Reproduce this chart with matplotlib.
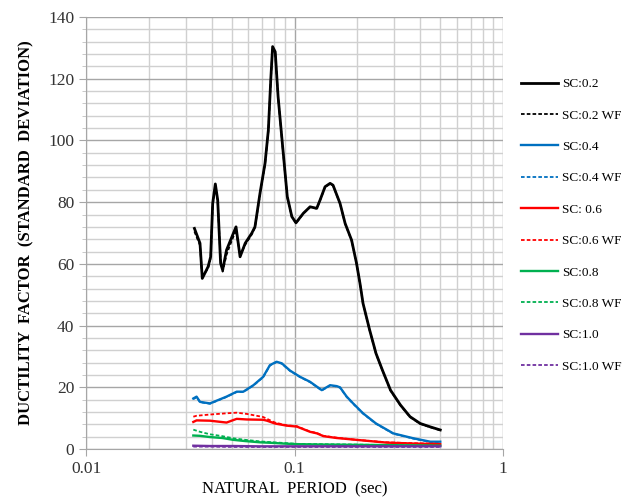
import matplotlib
matplotlib.use("Agg")
import matplotlib.pyplot as plt
from matplotlib.ticker import FixedLocator, NullFormatter, LogLocator

plt.rcParams['font.family'] = ['Liberation Serif', 'DejaVu Serif']

# Natural period (sec) and ductility factor values
sc02_x = [0.0331, 0.0352, 0.0361, 0.0385, 0.0396, 0.0405, 0.0417, 0.0428, 0.0442,
          0.0452, 0.0472, 0.0490, 0.0524, 0.0548, 0.0580, 0.0623, 0.0646, 0.0683,
          0.0722, 0.0749, 0.0769, 0.0785, 0.0808, 0.0834, 0.0877, 0.0923, 0.0971,
          0.1016, 0.1102, 0.1187, 0.1278, 0.1326, 0.1401, 0.1481, 0.1530, 0.1653,
          0.1749, 0.1878, 0.1983, 0.2060, 0.2131, 0.2292, 0.2459, 0.2639, 0.2886,
          0.3220, 0.3581, 0.4006, 0.4478, 0.5]
sc02_y = [71.5, 66.7, 55.3, 59.1, 62.3, 79.6, 85.9, 80.7, 60.2,
          58.0, 64.5, 67.2, 72.0, 62.3, 66.7, 69.9, 72.0, 82.9,
          92.6, 103.4, 119.6, 130.4, 128.7, 114.2, 98.0, 81.8, 75.3,
          73.3, 76.4, 78.5, 78.0, 80.7, 85.0, 86.1, 85.5, 79.6,
          73.1, 67.7, 60.2, 53.7, 47.2, 38.6, 31.0, 25.6, 19.1,
          14.3, 10.5, 8.3, 7.2, 6.2]
sc02wf_y = [70.5, 66.0, 55.8, 58.6, 62.0, 79.0, 85.3, 80.2, 61.5,
            57.5, 63.0, 66.0, 71.0, 62.8, 66.2, 69.5, 71.8, 82.5,
            92.3, 103.0, 119.2, 130.0, 128.4, 114.0, 97.8, 81.6, 75.2,
            73.2, 76.3, 78.4, 77.9, 80.6, 84.9, 86.0, 85.4, 79.5,
            73.0, 67.6, 60.1, 53.6, 47.1, 38.5, 30.9, 25.5, 19.0,
            14.2, 10.4, 8.2, 7.1, 6.1]

sc04_x = [0.0327, 0.0339, 0.0352, 0.0393, 0.0472, 0.0528, 0.0568, 0.0635, 0.0707,
          0.0762, 0.0820, 0.0868, 0.0953, 0.1064, 0.1187, 0.1351, 0.1481, 0.1594,
          0.1653, 0.1779, 0.1910, 0.2131, 0.2459, 0.2974, 0.3716, 0.4478, 0.5]
sc04_y = [16.4, 17.0, 15.3, 14.8, 17.0, 18.6, 18.6, 20.7, 23.4,
          27.2, 28.3, 27.8, 25.4, 23.4, 21.8, 19.1, 20.7, 20.4,
          20.0, 17.0, 14.8, 11.6, 8.3, 5.1, 3.5, 2.4, 2.4]
sc04wf_y = [16.2, 16.8, 15.2, 14.7, 16.9, 18.5, 18.5, 20.6, 23.3,
            27.1, 28.2, 27.7, 25.3, 23.3, 21.7, 19.0, 20.6, 20.3,
            19.9, 16.9, 14.7, 11.5, 8.2, 5.0, 3.4, 2.3, 2.3]

sc06_x = [0.0327, 0.0339, 0.0393, 0.0472, 0.0528, 0.0590, 0.0707, 0.0738, 0.0805,
          0.0917, 0.1025, 0.1187, 0.128, 0.1375, 0.159, 0.198, 0.2764, 0.3716, 0.5]
sc06_y = [8.8, 9.3, 9.2, 8.6, 9.8, 9.6, 9.5, 9.2, 8.3,
          7.6, 7.3, 5.6, 5.1, 4.2, 3.6, 3.0, 2.1, 1.8, 1.6]
sc06wf_y = [10.5, 10.8, 11.2, 11.6, 11.8, 11.4, 10.4, 9.8, 8.6,
            7.7, 7.4, 5.7, 5.2, 4.3, 3.7, 3.0, 2.2, 1.9, 1.7]

sc08_x = [0.0327, 0.0352, 0.0393, 0.0450, 0.0508, 0.0580, 0.0683, 0.0790, 0.0883,
          0.1025, 0.1280, 0.1840, 0.2764, 0.3716, 0.5]
sc08_y = [4.4, 4.3, 3.9, 3.6, 3.0, 2.6, 2.2, 2.0, 1.8,
          1.6, 1.5, 1.4, 1.3, 1.2, 1.1]
sc08wf_y = [6.3, 5.6, 4.8, 4.2, 3.5, 3.0, 2.5, 2.2, 2.0,
            1.7, 1.6, 1.5, 1.3, 1.2, 1.1]

sc10_x = [0.0327, 0.0393, 0.0508, 0.0683, 0.0883, 0.1280, 0.1840, 0.2764, 0.5]
sc10_y = [1.1, 1.0, 1.0, 0.9, 0.9, 0.9, 0.9, 0.9, 0.9]
sc10wf_y = [0.8, 0.8, 0.7, 0.7, 0.7, 0.7, 0.7, 0.7, 0.7]

labels = ['SC:0.2', 'SC:0.2 WF', 'SC:0.4', 'SC:0.4 WF', 'SC: 0.6',
          'SC:0.6 WF', 'SC:0.8', 'SC:0.8 WF', 'SC:1.0', 'SC:1.0 WF']

BLACK = '#000000'
BLUE = '#0070C0'
RED = '#FF0000'
GREEN = '#00B050'
PURPLE = '#7030A0'

fig = plt.figure(figsize=(6.28, 4.99), dpi=100)
ax = fig.add_axes([0.137, 0.100, 0.664, 0.866])

series = [
    (sc02_x, sc02_y, BLACK, '-', 2.0),
    (sc02_x, sc02wf_y, BLACK, (0, (2, 1.2)), 1.3),
    (sc04_x, sc04_y, BLUE, '-', 1.7),
    (sc04_x, sc04wf_y, BLUE, (0, (2, 1.2)), 1.3),
    (sc06_x, sc06_y, RED, '-', 1.7),
    (sc06_x, sc06wf_y, RED, (0, (2, 1.2)), 1.3),
    (sc08_x, sc08_y, GREEN, '-', 1.7),
    (sc08_x, sc08wf_y, GREEN, (0, (2, 1.2)), 1.3),
    (sc10_x, sc10_y, PURPLE, '-', 1.7),
    (sc10_x, sc10wf_y, PURPLE, (0, (2, 1.2)), 1.3),
]
for (x, y, c, ls, lw), lab in zip(series, labels):
    ax.plot(x, y, color=c, linestyle=ls, linewidth=lw, label=lab)

ax.set_xscale('log')
ax.set_xlim(0.01, 1)
ax.set_ylim(0, 140)

ax.set_yticks(range(0, 141, 20))
ax.yaxis.set_minor_locator(FixedLocator(range(0, 141, 4)))
ax.xaxis.set_major_locator(FixedLocator([0.01, 0.1, 1]))
ax.set_xticklabels(['0.01', '0.1', '1'])
ax.xaxis.set_minor_locator(LogLocator(base=10, subs=range(2, 10)))
ax.xaxis.set_minor_formatter(NullFormatter())

ax.grid(True, which='major', color='#a6a6a6', linewidth=1.0)
ax.grid(True, which='minor', color='#d0d0d0', linewidth=1.0)
ax.set_axisbelow(True)

for s in ['top', 'right']:
    ax.spines[s].set_visible(False)
for s in ['left', 'bottom']:
    ax.spines[s].set_color('#a6a6a6')

ax.tick_params(axis='both', which='major', labelsize=12.5, colors='#a6a6a6',
               labelcolor='#333333', length=5, direction='out')
ax.tick_params(axis='y', which='minor', colors='#c0c0c0', length=3)
ax.tick_params(axis='x', which='minor', length=0)

ax.set_xlabel('NATURAL  PERIOD  (sec)', fontsize=12, labelpad=3)
ax.set_ylabel('DUCTILITY  FACTOR  (STANDARD  DEVIATION)', fontsize=12,
              fontweight='bold', labelpad=10)

ax.legend(loc='upper left', bbox_to_anchor=(1.015, 0.886), frameon=False,
          fontsize=9.5, handlelength=2.8, labelspacing=1.45, handletextpad=0.3)

fig.savefig('out.png', dpi=100)
